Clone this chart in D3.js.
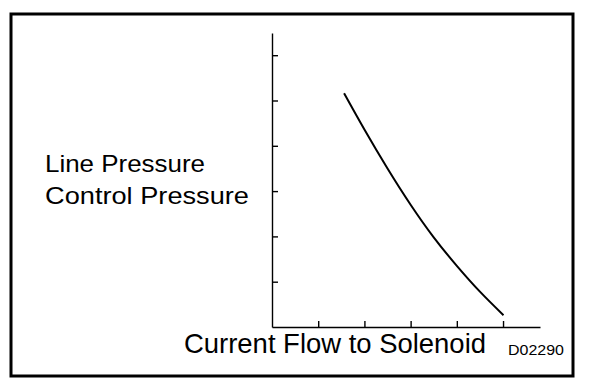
<!DOCTYPE html>
<html>
<head>
<meta charset="utf-8">
<script src="https://cdn.jsdelivr.net/npm/d3@7"></script>
<style>
  body { margin: 0; background: #fff; }
  text { font-family: 'Liberation Sans', Arial, sans-serif; fill: #000; }
</style>
</head>
<body>
<div id="chart"></div>
<script>
// Data (axis units = tick spacing)
const currentFlow = [1.56, 2.0, 2.5, 3.0, 3.5, 4.0, 4.5, 5.01]
const pressure = [5.16, 4.36, 3.50, 2.70, 1.98, 1.35, 0.78, 0.26]
const xTicks = [1, 2, 3, 4, 5]
const yTicks = [1, 2, 3, 4, 5, 6]
const yLabels = ['Line Pressure', 'Control Pressure']
const xLabel = 'Current Flow to Solenoid'
const figCode = 'D02290'

// Initialization
const width = 608
const height = 384
const svg = d3.select('#chart').append('svg')
  .attr('width', width)
  .attr('height', height)

// Frame
svg.append('rect')
  .attr('x', 11)
  .attr('y', 14)
  .attr('width', 562)
  .attr('height', 362)
  .attr('fill', 'none')
  .attr('stroke', '#000')
  .attr('stroke-width', 3)

// Scales
const x = d3.scaleLinear().domain([0, 5.8]).range([272, 540])
const y = d3.scaleLinear().domain([0, 6.49]).range([327, 33])

// Axes (ticks point inward, no labels)
svg.append('g')
  .attr('transform', `translate(0,${y(0)})`)
  .call(d3.axisBottom(x).tickValues(xTicks).tickSizeInner(-6).tickSizeOuter(0).tickFormat(''))
svg.append('g')
  .attr('transform', `translate(${x(0)},0)`)
  .call(d3.axisLeft(y).tickValues(yTicks).tickSizeInner(-6).tickSizeOuter(0).tickFormat(''))
svg.selectAll('.domain, .tick line')
  .attr('stroke', '#000')
  .attr('stroke-width', 1.4)

// Curve
const line = d3.line()
  .x(d => x(d[0]))
  .y(d => y(d[1]))
  .curve(d3.curveNatural)
svg.append('path')
  .datum(d3.zip(currentFlow, pressure))
  .attr('d', line)
  .attr('fill', 'none')
  .attr('stroke', '#000')
  .attr('stroke-width', 2)

// Labels
svg.selectAll('.ylabel')
  .data(yLabels)
  .enter()
  .append('text')
  .attr('class', 'ylabel')
  .attr('x', 45)
  .attr('y', (_, i) => 171.5 + i * 32)
  .attr('textLength', (_, i) => i === 0 ? 160 : 204)
  .attr('lengthAdjust', 'spacingAndGlyphs')
  .style('font-size', '24.5px')
  .text(d => d)

svg.append('text')
  .attr('x', 184)
  .attr('y', 353)
  .attr('textLength', 302)
  .attr('lengthAdjust', 'spacingAndGlyphs')
  .style('font-size', '27.5px')
  .text(xLabel)

svg.append('text')
  .attr('x', 508)
  .attr('y', 355)
  .attr('textLength', 56)
  .attr('lengthAdjust', 'spacingAndGlyphs')
  .style('font-size', '15px')
  .text(figCode)
</script>
</body>
</html>
